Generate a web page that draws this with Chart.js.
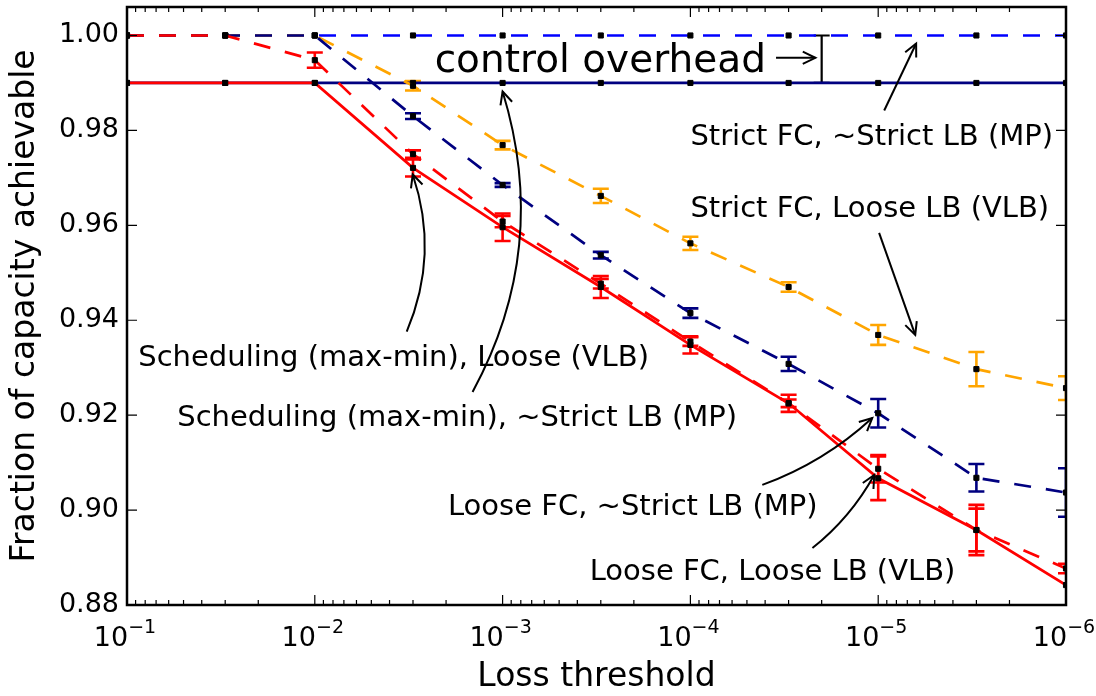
<!DOCTYPE html>
<html>
<head>
<meta charset="utf-8">
<script src="https://cdn.jsdelivr.net/npm/chart.js@4.4.0/dist/chart.umd.min.js"></script>
<style>
  html, body { margin: 0; padding: 0; background: #fff; }
  #wrap { width: 1096px; height: 696px; }
</style>
</head>
<body>
<div id="wrap"><canvas id="capacity" width="1096" height="696"></canvas></div>
<script>
// x positions (loss threshold) shared by every curve
var lossThresholds = [1e-1, 3e-2, 1e-2, 3e-3, 1e-3, 3e-4, 1e-4, 3e-5, 1e-5, 3e-6, 1e-6];

// Strict FC, ~Strict LB (MP)
var strictMp = [1, 1, 1, 1, 1, 1, 1, 1, 1, 1, 1];
// Scheduling (max-min), ~Strict LB (MP)
var schedMp = [0.99, 0.99, 0.99, 0.99, 0.99, 0.99, 0.99, 0.99, 0.99, 0.99, 0.99];
// Strict FC, Loose LB (VLB)
var strictVlb = [1, 1, 1, 0.9894, 0.9769, 0.9662, 0.9562, 0.9470, 0.9369, 0.9297, 0.9257];
var strictVlbErr = [0, 0, 0, 0.0010, 0.0009, 0.0015, 0.0014, 0.0010, 0.0021, 0.0036, 0.0025];
// Loose FC, ~Strict LB (MP)
var looseMp = [1, 1, 1, 0.9830, 0.9685, 0.9537, 0.9415, 0.9308, 0.9204, 0.9068, 0.9037];
var looseMpErr = [0, 0, 0, 0.0006, 0.0004, 0.0007, 0.0010, 0.0015, 0.0030, 0.0029, 0.0051];
// Loose FC, Loose LB (VLB)
var looseVlb = [1, 1, 0.9948, 0.9750, 0.9608, 0.9477, 0.9355, 0.9225, 0.9087, 0.8958, 0.8877];
var looseVlbErr = [0, 0, 0.0016, 0.0008, 0.0012, 0.0010, 0.0009, 0.0008, 0.0029, 0.0053, 0.0010];
// Scheduling (max-min), Loose (VLB)
var schedVlb = [0.99, 0.99, 0.99, 0.9721, 0.9596, 0.9470, 0.9348, 0.9225, 0.9067, 0.8958, 0.8842];
var schedVlbErr = [0, 0, 0, 0.0018, 0.0029, 0.0023, 0.0018, 0.0018, 0.0046, 0.0045, 0];

// gap between the two upper bounds
var overheadX = 2e-5;
var overheadLow = 0.99;
var overheadHigh = 1.0;

// axis ticks
var xTickExponents = [-1, -2, -3, -4, -5, -6];
var yTicks = [0.88, 0.90, 0.92, 0.94, 0.96, 0.98, 1.00];

var FONT = '"DejaVu Sans", sans-serif';

// drawn bottom to top
var series = [
    { label: "Strict FC, ~Strict LB (MP)", values: strictMp, err: null, color: "#0000ff", dash: true },
    { label: "Scheduling (max-min), ~Strict LB (MP)", values: schedMp, err: null, color: "#000080", dash: false },
    { label: "Strict FC, Loose LB (VLB)", values: strictVlb, err: strictVlbErr, color: "#ffa500", dash: true },
    { label: "Loose FC, ~Strict LB (MP)", values: looseMp, err: looseMpErr, color: "#000080", dash: true },
    { label: "Loose FC, Loose LB (VLB)", values: looseVlb, err: looseVlbErr, color: "#ff0000", dash: true },
    { label: "Scheduling (max-min), Loose (VLB)", values: schedVlb, err: schedVlbErr, color: "#ff0000", dash: false },
];

// text labels with arrows, all in data coordinates
var notes = [
    { text: "Strict FC, ~Strict LB (MP)", at: [1e-4, 0.977], from: [9.29e-6, 0.9842], to: [6.28e-6, 0.9983], rad: 0 },
    { text: "Strict FC, Loose LB (VLB)", at: [1e-4, 0.9618], from: [9.89e-6, 0.9584], to: [6.35e-6, 0.9369], rad: 0 },
    { text: "Scheduling (max-min), Loose (VLB)", at: [0.0871, 0.9304], from: [3.24e-3, 0.9376], to: [3.01e-3, 0.9707], rad: -0.19 },
    { text: "Scheduling (max-min), ~Strict LB (MP)", at: [0.054, 0.9177], from: [1.445e-3, 0.9249], to: [1e-3, 0.9882], rad: -0.21 },
    { text: "Loose FC, ~Strict LB (MP)", at: [1.955e-3, 0.8990], from: [4.14e-5, 0.9053], to: [1.076e-5, 0.9194], rad: -0.1 },
    { text: "Loose FC, Loose LB (VLB)", at: [3.44e-4, 0.8852], from: [2.24e-5, 0.8920], to: [1.05e-5, 0.9074], rad: -0.1 },
];

function drawArrow(ctx, x0, y0, x1, y1, rad) {
    var mx = (x0 + x1) / 2, my = (y0 + y1) / 2;
    var cx = mx + rad * (y1 - y0), cy = my - rad * (x1 - x0);
    ctx.beginPath();
    ctx.moveTo(x0, y0);
    ctx.quadraticCurveTo(cx, cy, x1, y1);
    ctx.stroke();
    var ang = Math.atan2(y1 - cy, x1 - cx);
    var len = 14, spread = 0.45;
    ctx.beginPath();
    ctx.moveTo(x1 - len * Math.cos(ang - spread), y1 - len * Math.sin(ang - spread));
    ctx.lineTo(x1, y1);
    ctx.lineTo(x1 - len * Math.cos(ang + spread), y1 - len * Math.sin(ang + spread));
    ctx.stroke();
}

function errorBar(ctx, x, yHigh, yLow) {
    ctx.beginPath();
    ctx.moveTo(x, yHigh); ctx.lineTo(x, yLow);
    ctx.moveTo(x - 8, yHigh); ctx.lineTo(x + 8, yHigh);
    ctx.moveTo(x - 8, yLow); ctx.lineTo(x + 8, yLow);
    ctx.stroke();
}

// error bars sit under the curves
var errorBars = {
    id: "errorBars",
    beforeDatasetsDraw: function (chart) {
        var ctx = chart.ctx, a = chart.chartArea;
        var xs = chart.scales.x, ys = chart.scales.y;
        ctx.save();
        ctx.beginPath();
        ctx.rect(a.left, a.top, a.right - a.left, a.bottom - a.top);
        ctx.clip();
        ctx.lineWidth = 2.6;
        series.forEach(function (s) {
            if (!s.err) return;
            ctx.strokeStyle = s.color;
            lossThresholds.forEach(function (t, i) {
                var e = s.err[i];
                if (!e) return;
                errorBar(ctx, xs.getPixelForValue(t),
                    ys.getPixelForValue(s.values[i] + e), ys.getPixelForValue(s.values[i] - e));
            });
        });
        ctx.strokeStyle = "#000";
        ctx.lineWidth = 2.2;
        errorBar(ctx, xs.getPixelForValue(overheadX),
            ys.getPixelForValue(overheadHigh), ys.getPixelForValue(overheadLow));
        ctx.restore();
    }
};

// box, inward ticks, log tick labels and annotations
var frame = {
    id: "frame",
    afterDatasetsDraw: function (chart) {
        var ctx = chart.ctx, a = chart.chartArea;
        var xs = chart.scales.x, ys = chart.scales.y;
        ctx.save();
        ctx.strokeStyle = "#000";
        ctx.lineWidth = 1.2;
        ctx.beginPath();
        xTickExponents.forEach(function (p) {
            var x = xs.getPixelForValue(Math.pow(10, p));
            ctx.moveTo(x, a.bottom); ctx.lineTo(x, a.bottom - 10);
            ctx.moveTo(x, a.top); ctx.lineTo(x, a.top + 10);
            if (p === -6) return;
            for (var m = 2; m <= 9; m++) {
                var xm = xs.getPixelForValue(m * Math.pow(10, p - 1));
                ctx.moveTo(xm, a.bottom); ctx.lineTo(xm, a.bottom - 5);
                ctx.moveTo(xm, a.top); ctx.lineTo(xm, a.top + 5);
            }
        });
        yTicks.forEach(function (v) {
            var y = ys.getPixelForValue(v);
            ctx.moveTo(a.left, y); ctx.lineTo(a.left + 10, y);
            ctx.moveTo(a.right, y); ctx.lineTo(a.right - 10, y);
        });
        ctx.stroke();
        ctx.lineWidth = 2.5;
        ctx.strokeRect(a.left, a.top, a.right - a.left, a.bottom - a.top);
        ctx.restore();
    },
    afterDraw: function (chart) {
        var ctx = chart.ctx, a = chart.chartArea;
        var xs = chart.scales.x, ys = chart.scales.y;
        ctx.save();
        ctx.fillStyle = "#000";
        ctx.strokeStyle = "#000";
        ctx.textBaseline = "alphabetic";
        ctx.textAlign = "left";

        // 10^-n labels under the x axis
        xTickExponents.forEach(function (p) {
            var x = xs.getPixelForValue(Math.pow(10, p));
            var sup = "\u2212" + Math.abs(p);
            ctx.font = "27px " + FONT;
            var wBase = ctx.measureText("10").width;
            ctx.font = "19px " + FONT;
            var wSup = ctx.measureText(sup).width;
            var x0 = x - (wBase + wSup) / 2 - 2;
            ctx.font = "27px " + FONT;
            ctx.fillText("10", x0, a.bottom + 41);
            ctx.font = "19px " + FONT;
            ctx.fillText(sup, x0 + wBase, a.bottom + 28);
        });

        ctx.lineWidth = 2;
        ctx.font = "29px " + FONT;
        notes.forEach(function (n) {
            ctx.fillText(n.text, xs.getPixelForValue(n.at[0]), ys.getPixelForValue(n.at[1]));
            drawArrow(ctx,
                xs.getPixelForValue(n.from[0]), ys.getPixelForValue(n.from[1]),
                xs.getPixelForValue(n.to[0]), ys.getPixelForValue(n.to[1]), n.rad);
        });

        ctx.font = "39px " + FONT;
        ctx.fillText("control overhead", xs.getPixelForValue(2.3e-3), ys.getPixelForValue(0.9923));
        drawArrow(ctx, xs.getPixelForValue(3.5e-5), ys.getPixelForValue(0.9953),
            xs.getPixelForValue(2.16e-5), ys.getPixelForValue(0.9953), 0);
        ctx.restore();
    }
};

function noEdgePadding(scale) {
    scale.paddingTop = 0;
    scale.paddingBottom = 0;
    scale.paddingLeft = 0;
    scale.paddingRight = 0;
}

var ctx = document.getElementById("capacity").getContext("2d");
var myChart = new Chart(ctx, {
    type: "line",
    data: {
        datasets: series.map(function (s, k) {
            return {
                label: s.label,
                data: lossThresholds.map(function (t, i) { return { x: t, y: s.values[i] }; }),
                borderColor: s.color,
                borderWidth: 2.7,
                borderDash: s.dash ? [17, 15] : [],
                pointStyle: "rect",
                pointRadius: 3.6,
                pointBackgroundColor: "#000",
                pointBorderColor: "#000",
                pointBorderWidth: 1,
                fill: false,
                tension: 0,
                clip: 0,
                order: series.length - k
            };
        })
    },
    options: {
        responsive: false,
        animation: false,
        devicePixelRatio: 1,
        events: [],
        layout: {
            padding: { top: 7, right: 30, left: 0, bottom: 0 }
        },
        plugins: {
            legend: { display: false },
            tooltip: { enabled: false }
        },
        scales: {
            x: {
                type: "logarithmic",
                reverse: true,
                min: 1e-6,
                max: 1e-1,
                grid: { display: false, drawTicks: false },
                border: { display: false },
                ticks: { display: false },
                title: {
                    display: true,
                    text: "Loss threshold",
                    color: "#000",
                    font: { family: FONT, size: 33, lineHeight: 1 },
                    padding: { top: 0, bottom: 2 }
                },
                afterFit: function (scale) {
                    scale.height = 91;
                    noEdgePadding(scale);
                }
            },
            y: {
                type: "linear",
                min: 0.88,
                max: 1.006,
                grid: { display: false, drawTicks: false },
                border: { display: false },
                ticks: {
                    color: "#000",
                    font: { family: FONT, size: 27 },
                    padding: 8,
                    autoSkip: false,
                    callback: function (v) { return v.toFixed(2); }
                },
                afterBuildTicks: function (scale) {
                    scale.ticks = yTicks.map(function (v) { return { value: v }; });
                },
                title: {
                    display: true,
                    text: "Fraction of capacity achievable",
                    color: "#000",
                    font: { family: FONT, size: 33, lineHeight: 1 },
                    padding: { top: 9, bottom: 0 }
                },
                afterFit: function (scale) {
                    scale.width = 127;
                    noEdgePadding(scale);
                }
            }
        }
    },
    plugins: [errorBars, frame]
});
</script>
</body>
</html>
